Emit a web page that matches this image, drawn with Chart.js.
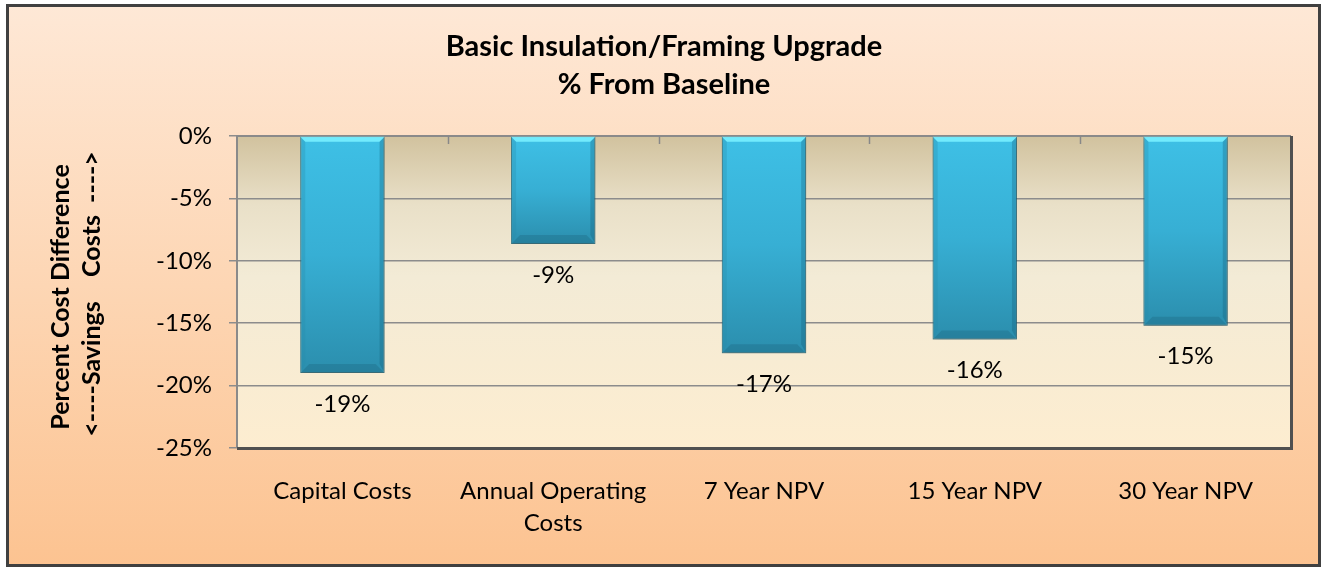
<!DOCTYPE html>
<html>
<head>
<meta charset="utf-8">
<script src="https://cdn.jsdelivr.net/npm/chart.js@4"></script>
<style>
  html, body { margin: 0; padding: 0; background: #ffffff; }
  canvas { display: block; }
</style>
</head>
<body>
<canvas id="costChart" width="1327" height="571"></canvas>
<script>
// Data
const categories = ["Capital Costs", ["Annual Operating", "Costs"], "7 Year NPV", "15 Year NPV", "30 Year NPV"];
const pctFromBaseline = [-19.0, -8.65, -17.4, -16.3, -15.2];
const valueLabels = ["-19%", "-9%", "-17%", "-16%", "-15%"];
const yTicks = [0, -5, -10, -15, -20, -25];

const titleLines = ["Basic Insulation/Framing Upgrade", "% From Baseline"];
const yTitleLines = ["Percent Cost Difference", "<----Savings    Costs  ---->"];

const FONT = "Lato, 'Open Sans', sans-serif";

// outer frame + background gradient
const frameBg = {
    id: "frameBg",
    beforeDraw(chart) {
        const ctx = chart.ctx;
        ctx.save();
        const g = ctx.createLinearGradient(0, 6, 0, 565);
        g.addColorStop(0, "#fee8d6");
        g.addColorStop(0.5, "#fdd6b4");
        g.addColorStop(1, "#fcc391");
        ctx.fillStyle = g;
        ctx.fillRect(8, 6, 1311, 559);
        ctx.lineWidth = 3;
        ctx.strokeStyle = "#404040";
        ctx.strokeRect(7.5, 5.5, 1312, 560);

        // plot area fill
        const a = chart.chartArea;
        const pg = ctx.createLinearGradient(0, a.top, 0, a.bottom);
        pg.addColorStop(0, "#d1c29e");
        pg.addColorStop(0.22, "#e9e0c8");
        pg.addColorStop(0.45, "#f3ebd6");
        pg.addColorStop(1, "#fdedd0");
        ctx.fillStyle = pg;
        ctx.fillRect(a.left, a.top, a.right - a.left, a.bottom - a.top);
        ctx.restore();
    }
};

// plot border, category ticks on the 0 line
const plotBorder = {
    id: "plotBorder",
    beforeDatasetsDraw(chart) {
        const ctx = chart.ctx;
        const a = chart.chartArea;
        ctx.save();
        ctx.lineWidth = 2;
        ctx.strokeStyle = "#8a8a8a";
        ctx.beginPath();
        ctx.moveTo(a.left, a.bottom);
        ctx.lineTo(a.left, a.top);
        ctx.lineTo(a.right, a.top);
        ctx.stroke();
        ctx.lineWidth = 3;
        ctx.strokeStyle = "#505050";
        ctx.beginPath();
        ctx.moveTo(a.left, a.bottom + 0.5);
        ctx.lineTo(a.right + 0.5, a.bottom + 0.5);
        ctx.lineTo(a.right + 0.5, a.top);
        ctx.stroke();

        const n = categories.length;
        const step = (a.right - a.left) / n;
        ctx.lineWidth = 1.5;
        ctx.strokeStyle = "#888888";
        for (let i = 1; i < n; i++) {
            const x = Math.round(a.left + i * step) + 0.5;
            ctx.beginPath();
            ctx.moveTo(x, a.top);
            ctx.lineTo(x, a.top + 8);
            ctx.stroke();
        }
        ctx.restore();
    }
};

// soft shadow under bars
const barShadow = {
    id: "barShadow",
    beforeDatasetDraw(chart) {
        const ctx = chart.ctx;
        ctx.save();
        ctx.shadowColor = "rgba(60, 40, 20, 0.35)";
        ctx.shadowBlur = 7;
        ctx.shadowOffsetY = 3;
    },
    afterDatasetDraw(chart) {
        chart.ctx.restore();
    }
};

// bevel look + value labels below each bar
const barDecor = {
    id: "barDecor",
    afterDatasetsDraw(chart) {
        const ctx = chart.ctx;
        const meta = chart.getDatasetMeta(0);
        ctx.save();
        meta.data.forEach((bar, i) => {
            const l = bar.x - bar.width / 2;
            const r = bar.x + bar.width / 2;
            const t = Math.min(bar.y, bar.base);
            const b = Math.max(bar.y, bar.base);
            const bt = 5, bb = 9, bs = 5;

            // top highlight
            ctx.fillStyle = "rgba(120, 240, 255, 0.9)";
            ctx.beginPath();
            ctx.moveTo(l, t); ctx.lineTo(r, t); ctx.lineTo(r - bt, t + bt); ctx.lineTo(l + bt, t + bt);
            ctx.closePath(); ctx.fill();
            // bottom dark bevel
            ctx.fillStyle = "rgba(25, 95, 118, 0.3)";
            ctx.beginPath();
            ctx.moveTo(l, b); ctx.lineTo(r, b); ctx.lineTo(r - bb, b - bb); ctx.lineTo(l + bb, b - bb);
            ctx.closePath(); ctx.fill();
            // left side
            ctx.fillStyle = "rgba(40, 140, 170, 0.3)";
            ctx.beginPath();
            ctx.moveTo(l, t); ctx.lineTo(l + bs, t + bt); ctx.lineTo(l + bs, b - bb); ctx.lineTo(l, b);
            ctx.closePath(); ctx.fill();
            // right side
            ctx.fillStyle = "rgba(20, 90, 115, 0.3)";
            ctx.beginPath();
            ctx.moveTo(r, t); ctx.lineTo(r - bs, t + bt); ctx.lineTo(r - bs, b - bb); ctx.lineTo(r, b);
            ctx.closePath(); ctx.fill();

            ctx.fillStyle = "#000000";
            ctx.font = "24px " + FONT;
            ctx.textAlign = "center";
            ctx.textBaseline = "middle";
            ctx.fillText(valueLabels[i], bar.x, b + 31);
        });
        ctx.restore();
    }
};

// chart title + two-line rotated y title
const titles = {
    id: "titles",
    afterDraw(chart) {
        const ctx = chart.ctx;
        ctx.save();
        ctx.fillStyle = "#000000";
        ctx.textAlign = "center";
        ctx.textBaseline = "middle";
        ctx.font = "bold 29px " + FONT;
        ctx.fillText(titleLines[0], 664, 47);
        ctx.fillText(titleLines[1], 664, 85);

        ctx.font = "bold 25px " + FONT;
        ctx.translate(61, 297);
        ctx.rotate(-Math.PI / 2);
        ctx.fillText(yTitleLines[0], 0, 0);
        ctx.fillText(yTitleLines[1], 3, 31);
        ctx.restore();
    }
};

const ctx = document.getElementById("costChart").getContext("2d");
const costChart = new Chart(ctx, {
    type: "bar",
    data: {
        labels: categories,
        datasets: [{
            data: pctFromBaseline,
            backgroundColor: function (context) {
                const chart = context.chart;
                if (!chart.chartArea || !chart.scales.y) return "#35aacd";
                const y0 = chart.scales.y.getPixelForValue(0);
                const y1 = chart.scales.y.getPixelForValue(context.raw);
                const g = chart.ctx.createLinearGradient(0, y0, 0, y1);
                g.addColorStop(0, "#3ec0e6");
                g.addColorStop(0.5, "#37afd4");
                g.addColorStop(1, "#2b8ead");
                return g;
            },
            borderColor: "rgba(30, 110, 135, 0.8)",
            borderWidth: 1,
            borderSkipped: false,
            barPercentage: 0.4,
            categoryPercentage: 1.0
        }]
    },
    options: {
        responsive: false,
        animation: false,
        events: [],
        layout: { padding: { top: 136, right: 36, left: 0, bottom: 0 } },
        plugins: {
            legend: { display: false },
            title: { display: false },
            tooltip: { enabled: false }
        },
        scales: {
            x: {
                grid: { display: false, drawTicks: false },
                border: { display: false },
                ticks: {
                    color: "#000000",
                    padding: 27,
                    maxRotation: 0,
                    autoSkip: false,
                    font: { family: FONT, size: 24, lineHeight: 1.33 }
                },
                afterFit(scale) { scale.height = 123; }
            },
            y: {
                min: -25,
                max: 0,
                afterBuildTicks(scale) {
                    scale.ticks = yTicks.map(v => ({ value: v }));
                },
                grid: {
                    color: "#8c8c8c",
                    lineWidth: 1.5,
                    tickLength: 8,
                    drawTicks: true
                },
                border: { display: false },
                ticks: {
                    color: "#000000",
                    padding: 17,
                    font: { family: FONT, size: 24 },
                    callback: v => v + "%"
                },
                afterFit(scale) { scale.width = 237; }
            }
        }
    },
    plugins: [frameBg, plotBorder, barShadow, barDecor, titles]
});
</script>
</body>
</html>
